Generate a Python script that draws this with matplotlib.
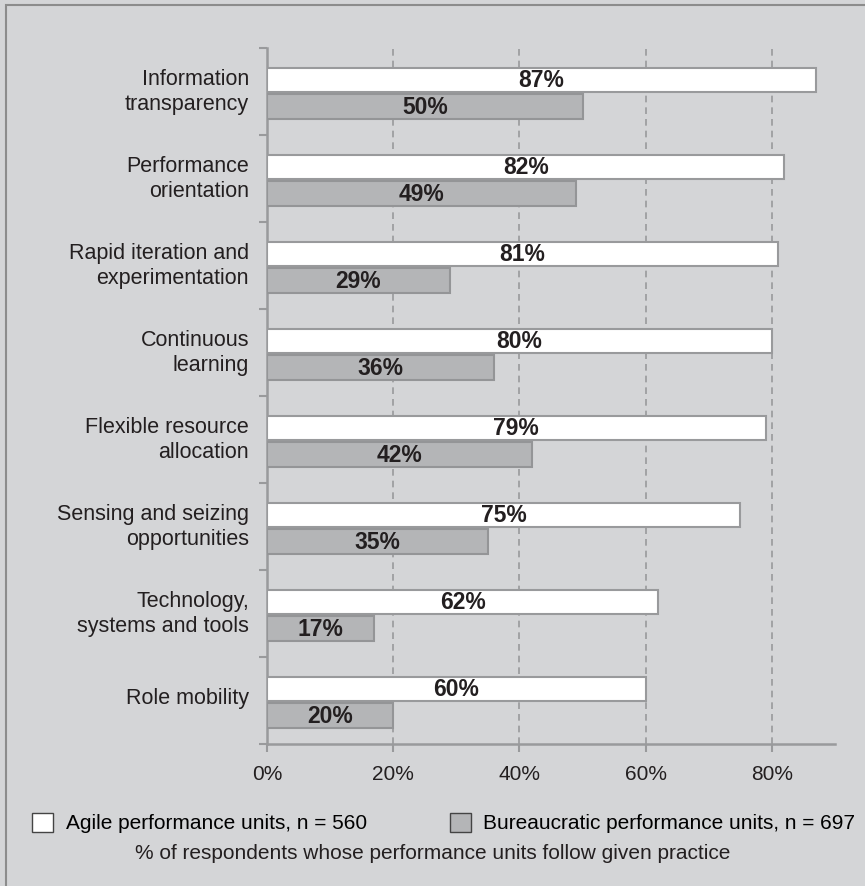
import matplotlib
matplotlib.use("Agg")
import matplotlib.pyplot as plt
from matplotlib.patches import Rectangle
import numpy as np

plt.rcParams['font.family'] = ['Liberation Sans', 'DejaVu Sans']

practices = ["Information\ntransparency", "Performance\norientation",
             "Rapid iteration and\nexperimentation", "Continuous\nlearning",
             "Flexible resource\nallocation", "Sensing and seizing\nopportunities",
             "Technology,\nsystems and tools", "Role mobility"]
agile = [87, 82, 81, 80, 79, 75, 62, 60]
bureaucratic = [50, 49, 29, 36, 42, 35, 17, 20]
xticks = [0, 20, 40, 60, 80]

bg = "#d4d5d7"
grey_bar = "#b4b5b7"
line_col = "#999a9c"
txt = "#231f20"

fig = plt.figure(figsize=(8.65, 8.86), dpi=100, facecolor=bg)
ax = fig.add_axes([0.3087, 0.1603, 0.6566, 0.7855])
ax.set_facecolor(bg)

# frame around the whole picture
fig.patches.append(Rectangle((6 / 865, -0.1), 1.2, 1 - 5 / 886 + 0.1, transform=fig.transFigure,
                             fill=False, edgecolor="#8c8c8c", linewidth=1.5, zorder=0))

y = np.arange(len(practices))
h = 0.285
ax.barh(y - h / 2 + 0.01, agile, height=h, color="white", edgecolor=line_col, linewidth=1.5,
        label="Agile performance units, n = 560", zorder=3)
ax.barh(y + h / 2 + 0.03, bureaucratic, height=h, color=grey_bar, edgecolor="#949597", linewidth=1.5,
        label="Bureaucratic performance units, n = 697", zorder=3)

for i in range(len(practices)):
    ax.text(agile[i] / 2, y[i] - h / 2 + 0.02, f"{agile[i]}%", ha="center", va="center",
            fontsize=16.5, fontweight="bold", color=txt, zorder=4)
    ax.text(bureaucratic[i] / 2, y[i] + h / 2 + 0.04, f"{bureaucratic[i]}%", ha="center", va="center",
            fontsize=16.5, fontweight="bold", color=txt, zorder=4)

ax.set_xlim(0, 90)
ax.set_ylim(7.5, -0.5)
ax.set_xticks(xticks)
ax.set_xticklabels([f"{t}%" for t in xticks], fontsize=15, color=txt)
# labels sit a little above the bar pair
ax.set_yticks(y - 0.05)
ax.set_yticklabels(practices, fontsize=15.5, color=txt, linespacing=1.3)
ax.tick_params(axis="y", length=0, pad=13)
ax.set_yticks(np.arange(-0.5, 8, 1), minor=True)
ax.tick_params(axis="y", which="minor", length=6, width=1.5, color=line_col)
ax.tick_params(axis="x", length=6, width=1.5, color=line_col, pad=9)

for x in xticks[1:]:
    ax.axvline(x, color=line_col, linestyle=(0, (4, 3)), linewidth=1.2, zorder=1)

for s in ["top", "right"]:
    ax.spines[s].set_visible(False)
for s in ["left", "bottom"]:
    ax.spines[s].set_color(line_col)
    ax.spines[s].set_linewidth(1.8)

fig.legend(loc="center", bbox_to_anchor=(0.513, 0.071), ncol=2, frameon=False, fontsize=15,
           handlelength=1.0, handleheight=1.0, handletextpad=0.6, columnspacing=4.0)
for p in fig.legends[0].get_patches():
    p.set_edgecolor("#444444")
    p.set_linewidth(1.0)

fig.text(0.50, 0.037, "% of respondents whose performance units follow given practice",
         ha="center", va="center", fontsize=15, color=txt)

fig.savefig("out.png", dpi=100, facecolor=bg)
